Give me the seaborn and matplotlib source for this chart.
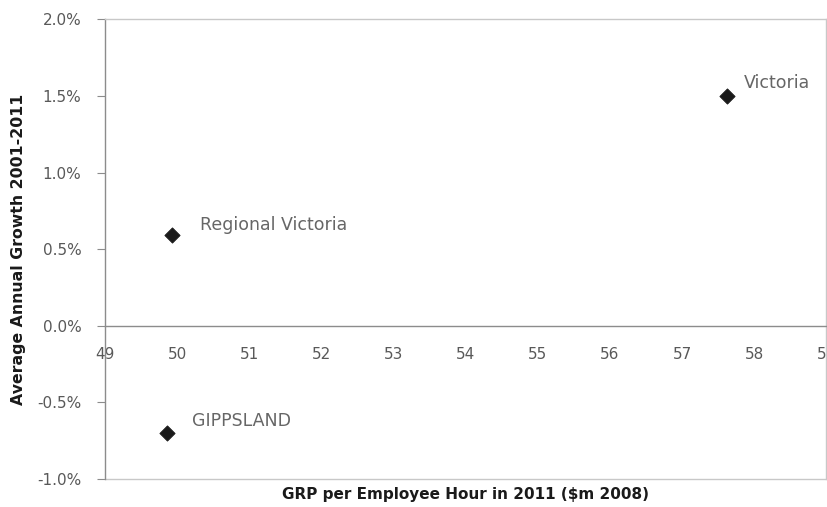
import numpy as np
import pandas as pd
import matplotlib
matplotlib.use('Agg')
import matplotlib.pyplot as plt
import seaborn as sns
from matplotlib.ticker import FuncFormatter, MultipleLocator

# data
regions = ['Victoria', 'Regional Victoria', 'GIPPSLAND']
grp_per_hour = [57.62, 49.93, 49.86]
avg_growth = [1.50, 0.59, -0.70]

df = pd.DataFrame({'region': regions, 'grp': grp_per_hour, 'growth': avg_growth})

sns.set_style('white')
plt.rcParams['font.family'] = ['DejaVu Sans']

fig = plt.figure(figsize=(8.28, 5.07), dpi=100)
ax = fig.add_axes([0.127, 0.055, 0.871, 0.907])

sns.scatterplot(data=df, x='grp', y='growth', marker='D', s=60,
                color='#1a1a1a', edgecolor='#1a1a1a', ax=ax, legend=False, zorder=3)

ax.set_xlim(49, 59)
ax.set_ylim(-1.0, 2.0)
ax.xaxis.set_major_locator(MultipleLocator(1))
ax.yaxis.set_major_locator(MultipleLocator(0.5))
ax.yaxis.set_major_formatter(FuncFormatter(lambda v, p: f'{v:.1f}%'))

# x axis crosses at zero
ax.spines['bottom'].set_position(('data', 0))
for side in ['left', 'bottom']:
    ax.spines[side].set_color('#8c8c8c')
    ax.spines[side].set_linewidth(1.0)
for side in ['top', 'right']:
    ax.spines[side].set_color('#c8c8c8')
    ax.spines[side].set_linewidth(1.0)
ax.axhline(-1.0, color='#c8c8c8', lw=1.0, clip_on=False, zorder=1)

ax.tick_params(axis='x', direction='in', length=3, color='#8c8c8c', pad=15,
               labelsize=11, labelcolor='#595959')
ax.tick_params(axis='y', direction='out', length=6, color='#8c8c8c', pad=11,
               labelsize=11, labelcolor='#595959', left=True)

# point labels
offsets = {'Victoria': (0.24, 0.085), 'Regional Victoria': (0.39, 0.065), 'GIPPSLAND': (0.35, 0.078)}
for r, x, y in zip(regions, grp_per_hour, avg_growth):
    dx, dy = offsets[r]
    ax.text(x + dx, y + dy, r, fontsize=12.5, color='#666666', ha='left', va='center')

ax.set_xlabel('GRP per Employee Hour in 2011 ($m 2008)', fontsize=11,
              fontweight='bold', color='#1a1a1a')
ax.xaxis.label.set_va('center')
ax.xaxis.set_label_coords(0.5, -0.033)
ax.set_ylabel('Average Annual Growth 2001-2011', fontsize=11.3,
              fontweight='bold', color='#1a1a1a')
ax.yaxis.label.set_va('center')
ax.yaxis.set_label_coords(-0.12, 0.5)

fig.savefig('out.png', dpi=100)
